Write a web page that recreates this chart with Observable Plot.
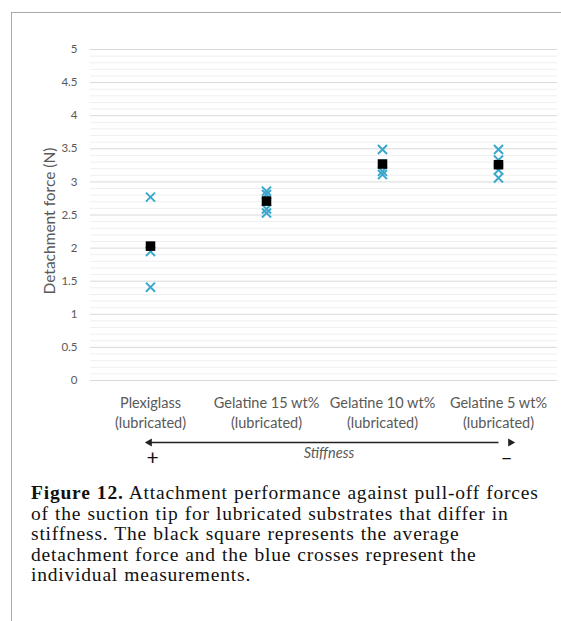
<!DOCTYPE html>
<html>
<head>
<meta charset="utf-8">
<script src="https://cdn.jsdelivr.net/npm/d3@7"></script>
<script src="https://cdn.jsdelivr.net/npm/@observablehq/plot@0.6"></script>
<style>
  html, body { margin: 0; padding: 0; background: #fff; }
  #wrap { position: relative; width: 561px; height: 621px; overflow: hidden; }
  #frame { position: absolute; left: 11px; top: 12px; right: -2px; bottom: -2px;
           border-top: 1px solid #a9a9a9; border-left: 1px solid #a9a9a9; }
  #chart { position: absolute; left: 0; top: 0; }
  #caption { position: absolute; left: 31px; top: 483px; width: 530px; white-space: nowrap;
             font-family: "Liberation Serif", "DejaVu Serif", serif; font-size: 19.5px;
             letter-spacing: 0.8px; word-spacing: 0.5px; line-height: 20.5px; color: #111; }
  #caption b { font-weight: bold; }
</style>
</head>
<body>
<div id="wrap">
  <div id="frame"></div>
  <div id="chart"></div>
  <div id="caption"><b>Figure 12.</b> Attachment performance against pull-off forces<br>of the suction tip for lubricated substrates that differ in<br>stiffness. The black square represents the average<br>detachment force and the blue crosses represent the<br>individual measurements.</div>
</div>
<script>
// ---- data ----
const categories = ["Plexiglass", "Gelatine 15 wt%", "Gelatine 10 wt%", "Gelatine 5 wt%"];
const categoryLabels = ["Plexiglass\n(lubricated)", "Gelatine 15 wt%\n(lubricated)", "Gelatine 10 wt%\n(lubricated)", "Gelatine 5 wt%\n(lubricated)"];
const averages = [2.03, 2.71, 3.27, 3.26];
const measurements = [
  [2.77, 1.95, 1.41],
  [2.86, 2.81, 2.59, 2.53],
  [3.49, 3.16, 3.11],
  [3.49, 3.33, 3.18, 3.06]
];
const yTicks = [0, 0.5, 1, 1.5, 2, 2.5, 3, 3.5, 4, 4.5, 5];
const yLabel = "Detachment force (N)";
const axisTitle = "Stiffness";

// ---- derived tables ----
const avgData = categories.map((c, i) => ({cat: c, value: averages[i]}));
const measData = categories.flatMap((c, i) => measurements[i].map(v => ({cat: c, value: v})));
const minorTicks = d3.range(0, 50).map(i => i / 10).filter(v => Math.round(v * 10) % 5 !== 0);
const labelOf = new Map(categories.map((c, i) => [c, categoryLabels[i]]));

const gray = "#595959";
const font = "Lato, 'Open Sans', sans-serif";
const first = categories[0];
const last = categories[categories.length - 1];

const chart = Plot.plot({
  width: 561,
  height: 480,
  marginLeft: 90,
  marginRight: 4,
  marginTop: 49,
  marginBottom: 100,
  style: {fontFamily: font, color: gray, background: "transparent", overflow: "visible"},
  x: {type: "point", domain: categories, padding: 0.5},
  y: {domain: [0, 5]},
  marks: [
    Plot.ruleY(minorTicks, {stroke: "#efefef", strokeWidth: 1}),
    Plot.ruleY(yTicks, {stroke: "#d9d9d9", strokeWidth: 1}),
    Plot.axisY({ticks: yTicks, tickSize: 0, tickPadding: 13, label: null, fontSize: 11.5, fill: gray,
                tickFormat: d => String(d)}),
    Plot.axisX({tickSize: 0, tickPadding: 13, label: null, fontSize: 14.5, lineHeight: 1.38,
                tickFormat: d => labelOf.get(d), fill: gray}),
    Plot.text([yLabel], {frameAnchor: "left", textAnchor: "middle", rotate: -90, dx: -40, dy: 6, fontSize: 15.5, fill: gray}),
    Plot.dot(measData, {x: "cat", y: "value", symbol: "times", r: 4.2, stroke: "#3aa7cc", strokeWidth: 2}),
    Plot.dot(avgData, {x: "cat", y: "value", symbol: "square", r: 5.4, fill: "#000", stroke: "none"}),
    // stiffness arrow below the categories
    Plot.link([0], {x1: () => first, x2: () => last, y1: () => 0, y2: () => 0,
                    dy: 62, stroke: "#222", strokeWidth: 1.3}),
    Plot.dot([first], {x: d => d, y: () => 0, dy: 62, dx: -1, symbol: "triangle", rotate: -90, r: 3, fill: "#222"}),
    Plot.dot([last], {x: d => d, y: () => 0, dy: 62, dx: 12, symbol: "triangle", rotate: 90, r: 3, fill: "#222"}),
    Plot.text(["+"], {x: () => first, y: () => 0, dy: 78, dx: 2, fontSize: 21, fill: "#111"}),
    Plot.text(["\u2013"], {x: () => last, y: () => 0, dy: 78, dx: 8, fontSize: 21, fill: "#111"}),
    Plot.text([axisTitle], {frameAnchor: "bottom", dx: 5, dy: 77, fontSize: 14.5, fontStyle: "italic", fill: gray})
  ]
});
document.getElementById("chart").appendChild(chart);
</script>
</body>
</html>
